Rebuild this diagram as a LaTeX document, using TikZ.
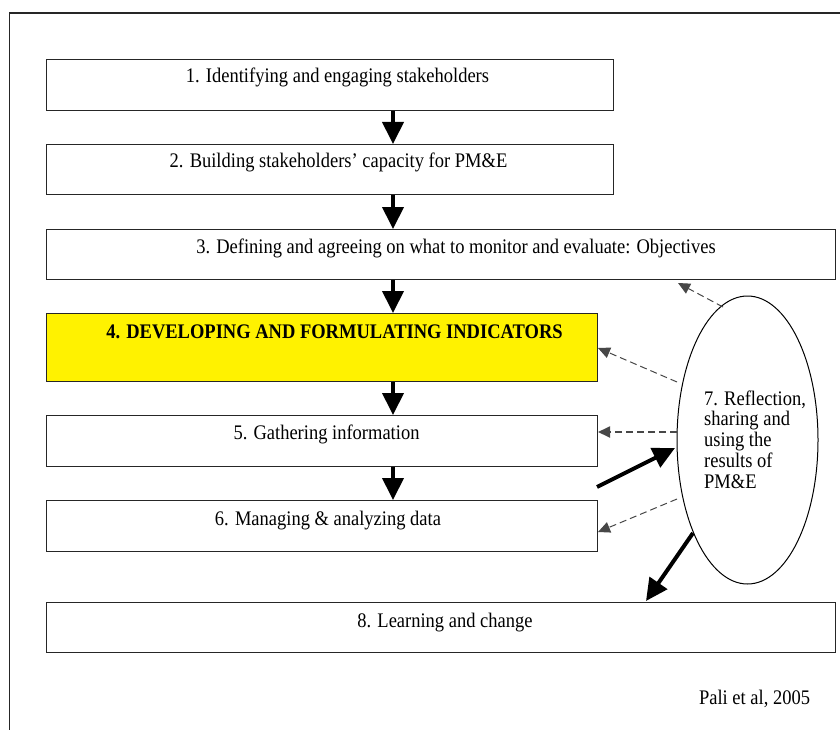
\documentclass[tikz,border=0pt]{standalone}
\usepackage{fontspec}
\setmainfont{Liberation Serif}
\usetikzlibrary{arrows.meta,shapes.geometric}
\definecolor{fbgray}{HTML}{474747}
\definecolor{boxline}{HTML}{262626}
\newcommand{\tallt}[1]{\scalebox{1}[1.12]{#1}}
\begin{document}
\begin{tikzpicture}[x=1pt,y=-1pt,
  box/.style={draw=boxline, line width=1.3pt, rectangle, inner sep=0pt, anchor=north west},
  lbl/.style={inner sep=0pt, anchor=base, font=\fontsize{18.5}{20.75}\selectfont},
  flow/.style={line width=4pt, -{Triangle[width=21pt,length=22pt]}},
  fb/.style={draw=fbgray, line width=1pt, dash pattern=on 7pt off 4pt, -{Triangle[width=11pt,length=12pt,fill=fbgray]}},
  fbthick/.style={fb, line width=1.8pt, dash pattern=on 7pt off 4pt}
]
\useasboundingbox (0,0) rectangle (840,730);
% frame
\draw[line width=1.7pt, boxline] (9.5,730) -- (9.5,13) -- (840,13);

% boxes
\node[box, minimum width=567pt, minimum height=51pt] (b1) at (46,59) {};
\node[box, minimum width=567pt, minimum height=50pt] (b2) at (46,144) {};
\node[box, minimum width=789pt, minimum height=50pt] (b3) at (46,229) {};
\node[box, fill=yellow, minimum width=551pt, minimum height=68pt] (b4) at (46,313) {};
\node[box, minimum width=551pt, minimum height=51pt] (b5) at (46,415) {};
\node[box, minimum width=551pt, minimum height=51pt] (b6) at (46,500) {};
\node[box, minimum width=789pt, minimum height=50pt] (b8) at (46,602) {};

% texts
\node[lbl] (t1) at (337.5,83) {\tallt{1. Identifying and engaging stakeholders}};
\node[lbl] (t2) at (338.5,168) {\tallt{2. Building stakeholders’ capacity for PM\&E}};
\node[lbl] (t3) at (456,253) {\tallt{3. Defining and agreeing on what to monitor and evaluate: Objectives}};
\node[lbl, font=\fontsize{18.5}{20.75}\selectfont\bfseries] (t4) at (334.5,338) {\tallt{4. DEVELOPING AND FORMULATING INDICATORS}};
\node[lbl] (t5) at (326.5,439) {\tallt{5. Gathering information}};
\node[lbl] (t6) at (328,525) {\tallt{6. Managing \& analyzing data}};
\node[lbl] (t8) at (445,627) {\tallt{8. Learning and change}};
\node[lbl] (src) at (754.5,704) {\tallt{Pali et al, 2005}};

% ellipse
\node[draw=black, line width=1pt, ellipse, inner sep=0pt, minimum width=141pt, minimum height=288pt] (e) at (747.5,440) {};
\node[lbl, anchor=base west] (t7) at (704,405) {\begin{tabular}[t]{@{}l@{}}\tallt{7. Reflection,}\\ \tallt{sharing and}\\ \tallt{using the}\\ \tallt{results of}\\ \tallt{PM\&E}\end{tabular}};

% vertical flow arrows
\coordinate (ax) at (393,0);
\draw[flow] (b1.south -| ax) -- (b2.north -| ax);
\draw[flow] (b2.south -| ax) -- (b3.north -| ax);
\draw[flow] (b3.south -| ax) -- (b4.north -| ax);
\draw[flow] (b4.south -| ax) -- (b5.north -| ax);
\draw[flow] (b5.south -| ax) -- (b6.north -| ax);

% feedback dashed arrows
\coordinate (d1s) at (723,307);  \coordinate (d1e) at (678,283);
\coordinate (d2s) at (677,382);  \coordinate (d2e) at (598,348);
\coordinate (d3s) at (677,432);  \coordinate (d3e) at (598,432);
\coordinate (d4s) at (677,499);  \coordinate (d4e) at (598,532);
\draw[fb] (d1s) -- (d1e);
\draw[fb] (d2s) -- (d2e);
\draw[fbthick] (d3s) -- (d3e);
\draw[fb] (d4s) -- (d4e);

% solid arrows
\coordinate (s1s) at (597,487);  \coordinate (s1e) at (675,448);
\coordinate (s2s) at (693,533);  \coordinate (s2e) at (646,601);
\draw[flow] (s1s) -- (s1e);
\draw[flow] (s2s) -- (s2e);
\end{tikzpicture}
\end{document}
